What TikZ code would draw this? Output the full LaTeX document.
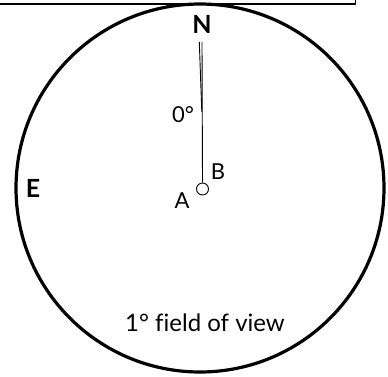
\documentclass[tikz,border=0pt]{standalone}
\usepackage{fontspec}
\setmainfont{Lato}[Ligatures={NoCommon}]
\usetikzlibrary{positioning}

\begin{document}
\begin{tikzpicture}[x=1pt, y=-1pt,
  lbl/.style={font=\fontsize{22}{25}\selectfont, inner sep=0pt},
  dirlbl/.style={font=\bfseries\fontsize{25}{28}\selectfont, inner sep=0pt},
  ring/.style={draw, line width=3.2pt},
  hair/.style={draw, line width=0.9pt}
]
\useasboundingbox (0,0) rectangle (388,376);
% frame above the view
\draw[line width=1.8pt] (-5,-20) rectangle (355.5,4);
% field of view
\coordinate (ctr) at (200,188);
\draw[ring] (ctr) circle (184pt);
% star and pointer
\node[circle, draw, line width=0.9pt, minimum size=12pt, inner sep=0pt] (star) at (202.5,189) {};
\coordinate (tipL) at (199.3,42);
\coordinate (tipR) at (202,42);
\coordinate (join) at (201.8,112);
\draw[hair] (tipL) -- (join);
\draw[hair] (tipR) -- (star.north);
% labels
\node[dirlbl] (north) at (202,24) {N};
\node[dirlbl] (east) at (33,188) {E};
\node[lbl] (angle) at (183,115) {0°};
\node[lbl] (ptB) at (218,172) {B};
\node[lbl] (ptA) at (182,201) {A};
\node[lbl, font=\fontsize{24}{27}\selectfont] (fovlbl) at (205,323) {1° field of view};
\end{tikzpicture}
\end{document}
